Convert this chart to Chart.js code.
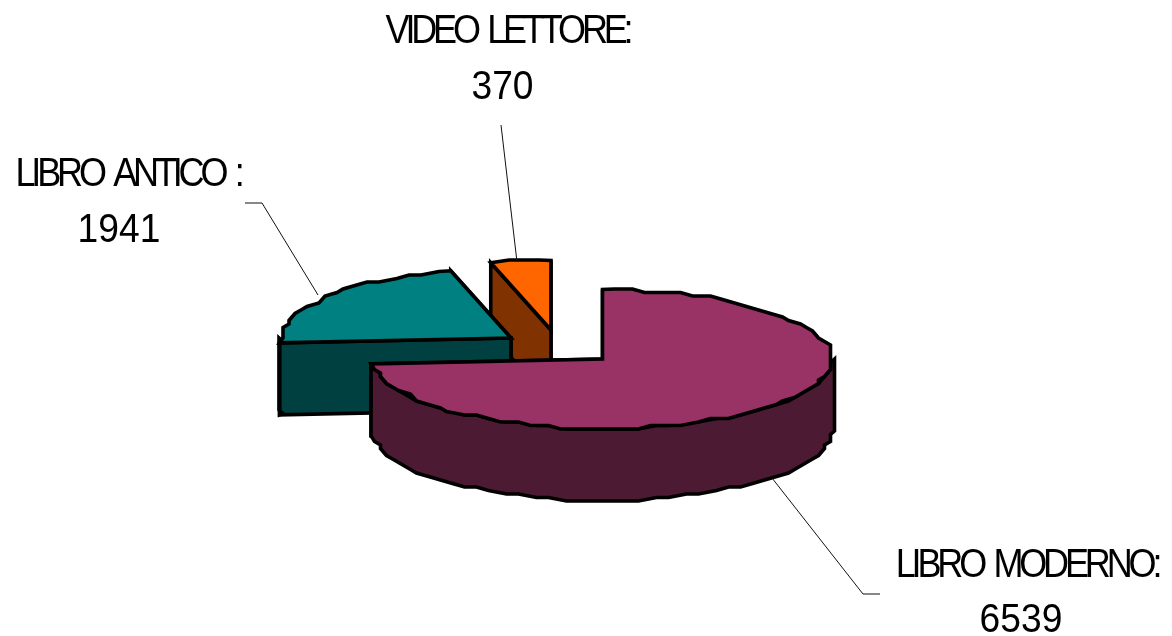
<!DOCTYPE html>
<html>
<head>
<meta charset="utf-8">
<style>html,body{margin:0;padding:0;background:#fff}#wrap{width:1172px;height:636px}</style>
<script src="https://cdn.jsdelivr.net/npm/chart.js@4/dist/chart.umd.min.js"></script>
</head>
<body>
<div id="wrap"><canvas id="c" width="1172" height="636"></canvas></div>
<script>
const categories = ['LIBRO MODERNO', 'LIBRO ANTICO', 'VIDEO LETTORE'];
const values = [6539, 1941, 370];
const categoryTitles = ['LIBRO MODERNO:', 'LIBRO ANTICO :', 'VIDEO LETTORE:'];
const topColors = ['#993366', '#008080', '#ff6600'];
const sideColors = ['#4d1a33', '#004040', '#803300'];

// Look of the tilted, exploded pie (pixels)
const TILT = 0.3;
const DEPTH = 72;
const explode = [[0, 0], [-91.5, -21], [-51.5, -29]];
const paintOrder = [2, 1, 0];
const labelLook = [
  { cx: 1027, cx2: 1021, y1: 577, y2: 632, leader: [[772, 478], [863, 594], [880, 594]] },
  { cx: 128, cx2: 119, y1: 186, y2: 242, leader: [[318, 295], [262, 203], [245, 203]] },
  { cx: 507.5, cx2: 502.5, y1: 43, y2: 99, leader: [[517, 262], [501, 125]] }
];

function pt(cx, cy, r, a, d) {
  return [cx + r * Math.cos(a), cy + r * TILT * Math.sin(a) + (d || 0)];
}
// The reference outline is a coarse polygon: sample the rim in steps and snap to a grid.
function arcPts(cx, cy, r, a0, a1, d) {
  const n = Math.max(2, Math.ceil(Math.abs(a1 - a0) / (Math.PI / 45)));
  const out = [];
  for (let i = 0; i <= n; i++) {
    const p = pt(cx, cy, r, a0 + (a1 - a0) * i / n, d);
    if (i > 0 && i < n) {
      p[0] = cx + Math.trunc((p[0] - cx) / 6) * 6;
      p[1] = cy + (d || 0) + Math.round((p[1] - cy - (d || 0)) / 3.5) * 3.5;
    }
    out.push(p);
  }
  return out;
}
function shape(ctx, pts, fill) {
  ctx.beginPath();
  pts.forEach((p, i) => i ? ctx.lineTo(p[0], p[1]) : ctx.moveTo(p[0], p[1]));
  ctx.closePath();
  ctx.fillStyle = fill;
  ctx.fill();
  ctx.stroke();
}
function squeezedText(ctx, text, cx, y, sx, spacing, wordGap) {
  ctx.save();
  ctx.translate(cx, y);
  ctx.scale(sx, 1);
  ctx.letterSpacing = spacing;
  ctx.wordSpacing = wordGap;
  ctx.fillText(text, 0, 0);
  ctx.restore();
}

const pie3d = {
  id: 'pie3d',
  beforeDatasetDraw(chart, args) {
    const ctx = chart.ctx;
    const arcs = chart.getDatasetMeta(args.index).data;
    ctx.save();
    ctx.lineWidth = 3.6;
    ctx.lineJoin = 'miter';
    ctx.miterLimit = 3;
    ctx.strokeStyle = '#000';
    paintOrder.forEach(i => {
      const el = arcs[i];
      const a0 = el.startAngle, a1 = el.endAngle, r = el.outerRadius;
      const cx = el.x + explode[i][0], cy = el.y + explode[i][1];
      const side = sideColors[i], c = [cx, cy];
      const cut = a => {
        const p = pt(cx, cy, r, a);
        shape(ctx, [c, p, [p[0], p[1] + DEPTH], [cx, cy + DEPTH]], side);
      };
      cut(a1);
      cut(a0);
      const f0 = Math.max(a0, 0), f1 = Math.min(a1, Math.PI);
      if (f1 > f0) {
        shape(ctx, arcPts(cx, cy, r, f0, f1, 0).concat(arcPts(cx, cy, r, f1, f0, DEPTH)), side);
      }
      shape(ctx, [c].concat(arcPts(cx, cy, r, a0, a1, 0)), topColors[i]);
    });
    ctx.restore();
    return false;
  },
  afterDatasetsDraw(chart) {
    const ctx = chart.ctx;
    ctx.save();
    ctx.strokeStyle = '#111';
    ctx.lineWidth = 1;
    ctx.fillStyle = '#000';
    ctx.textAlign = 'center';
    ctx.textBaseline = 'alphabetic';
    ctx.font = '40px "Liberation Sans"';
    categories.forEach((name, i) => {
      const l = labelLook[i];
      ctx.beginPath();
      l.leader.forEach((p, k) => k ? ctx.lineTo(p[0], p[1]) : ctx.moveTo(p[0], p[1]));
      ctx.stroke();
      squeezedText(ctx, categoryTitles[i], l.cx, l.y1, 0.9, '-4.6px', '5px');
      squeezedText(ctx, String(values[i]), l.cx2, l.y2, 0.93, '0px', '0px');
    });
    ctx.restore();
  }
};

new Chart(document.getElementById('c'), {
  type: 'pie',
  data: {
    labels: categories,
    datasets: [{ data: values, backgroundColor: topColors, borderColor: '#000', borderWidth: 0 }]
  },
  options: {
    responsive: false,
    animation: false,
    radius: 232,
    layout: { padding: { left: 33, top: 82, right: 0, bottom: 0 } },
    plugins: { legend: { display: false }, tooltip: { enabled: false }, title: { display: false } },
    events: []
  },
  plugins: [pie3d]
});
</script>
</body>
</html>
